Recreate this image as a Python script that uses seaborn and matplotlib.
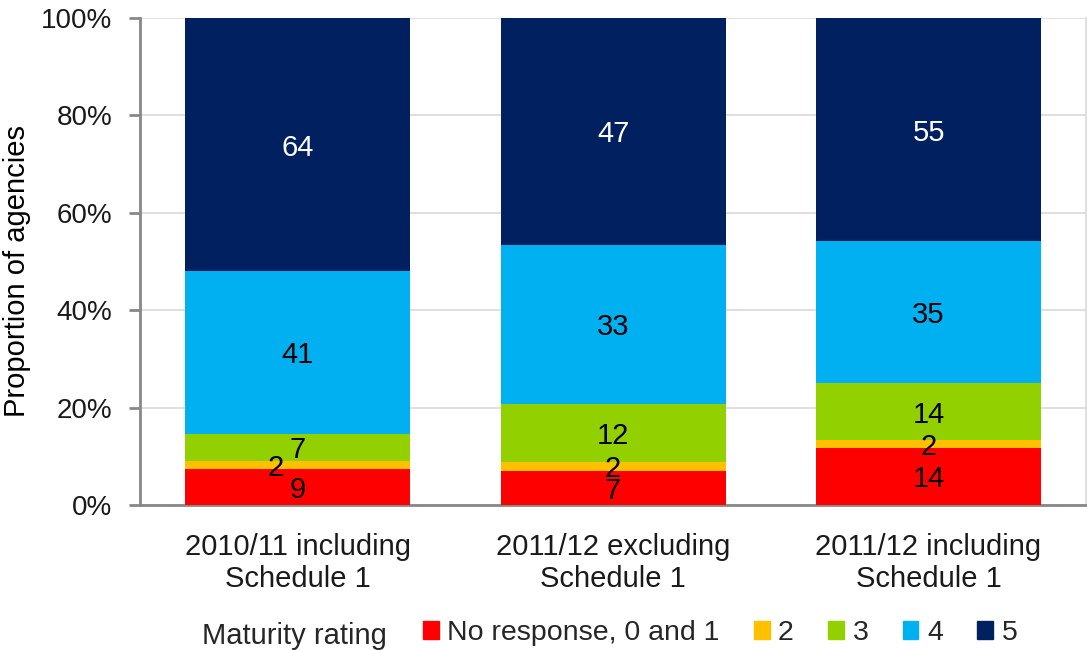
import matplotlib.pyplot as plt
import matplotlib.patches as mpatches
import seaborn as sns
import numpy as np
import pandas as pd

# Counts of agencies by maturity rating
groups = ["2010/11 including\nSchedule 1", "2011/12 excluding\nSchedule 1", "2011/12 including\nSchedule 1"]
ratings = ["No response, 0 and 1", "2", "3", "4", "5"]
no_response = [9, 7, 14]
rating_2 = [2, 2, 2]
rating_3 = [7, 12, 14]
rating_4 = [41, 33, 35]
rating_5 = [64, 47, 55]

colors = ["#FF0000", "#FFC000", "#92D000", "#00B0F0", "#002060"]
label_colors = ["black", "black", "black", "black", "white"]

sns.set_theme(style="white")
plt.rcParams["font.family"] = ["Liberation Sans", "DejaVu Sans"]

counts = pd.DataFrame([no_response, rating_2, rating_3, rating_4, rating_5],
                      index=ratings, columns=groups)
pct = counts / counts.sum(axis=0) * 100

fig = plt.figure(figsize=(10.87, 6.5), dpi=100)
ax = fig.add_axes([0.1288, 0.2231, 0.8705, 0.7492])

bottom = np.zeros(len(groups))
for i, r in enumerate(ratings):
    vals = pct.loc[r].values
    sns.barplot(x=groups, y=vals, bottom=bottom, color=colors[i], width=0.714,
                saturation=1, linewidth=0, ax=ax, zorder=3)
    for j, v in enumerate(vals):
        xoff = -0.07 if (i == 1 and j == 0) else 0
        ax.text(j + xoff, bottom[j] + v / 2 - 0.6, str(counts.loc[r].iloc[j]),
                ha="center", va="center", fontsize=21, color=label_colors[i], zorder=4)
    bottom += vals

ax.set_xlim(-0.5, 2.5)
ax.set_ylim(0, 100)
ax.set_yticks(np.arange(0, 101, 20))
ax.set_yticklabels([f"{v}%" for v in range(0, 101, 20)], fontsize=20, color="#1a1a1a")
ax.set_xticks(range(3))
ax.set_xticklabels(groups, fontsize=21, color="#1a1a1a")
ax.set_xticks([-0.5, 0.5, 1.5, 2.5], minor=True)
ax.tick_params(axis="x", which="major", length=0, pad=20)
ax.tick_params(axis="x", which="minor", length=8, width=2, color="#888888", direction="out")
ax.tick_params(axis="y", length=8, width=2, color="#888888", direction="out", left=True, pad=12)
ax.set_ylabel("Proportion of agencies", fontsize=21, color="black")
ax.yaxis.set_label_coords(-0.115, 0.48)
ax.set_xlabel("")

ax.yaxis.grid(True, color="#d9d9d9", linewidth=1.2, zorder=0)
ax.set_axisbelow(True)
for side in ["left", "bottom"]:
    ax.spines[side].set_color("#888888")
    ax.spines[side].set_linewidth(2)
ax.spines["top"].set_visible(False)
ax.spines["right"].set_color("#d9d9d9")
ax.spines["right"].set_linewidth(1.2)

handles = [mpatches.Patch(color=c, label=r) for c, r in zip(colors, ratings)]
fig.text(0.186, 0.026, "Maturity rating", fontsize=21, ha="left", va="center_baseline")
fig.legend(handles=handles, loc="center left", bbox_to_anchor=(0.389, 0.026), ncol=5,
           frameon=False, fontsize=20.5, handlelength=0.55, handleheight=0.55,
           handletextpad=0.3, columnspacing=1.21, borderpad=0, borderaxespad=0)

fig.savefig("out.png", dpi=100)
